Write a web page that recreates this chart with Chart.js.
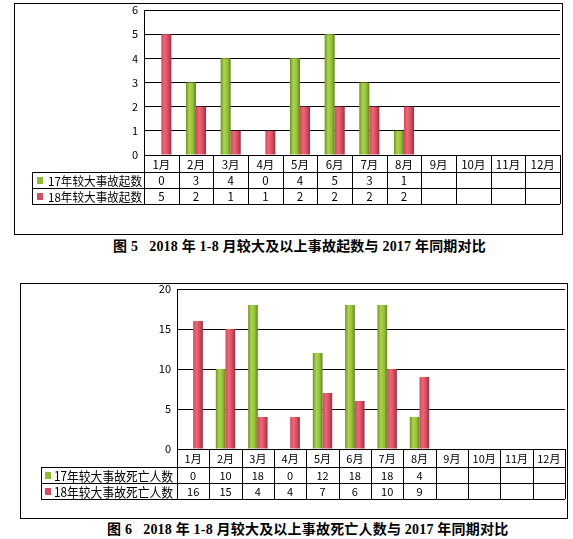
<!DOCTYPE html>
<html>
<head>
<meta charset="utf-8">
<script src="https://cdn.jsdelivr.net/npm/chart.js@4"></script>
<style>
  body { margin: 0; background: #fff; width: 573px; height: 539px; position: relative; overflow: hidden; }
  .box { position: absolute; border: 1px solid #000; box-sizing: border-box; }
  .cap { position: absolute; font: bold 14px "Liberation Serif", "Noto Sans CJK SC", serif; line-height: 16px; letter-spacing: 0.2px; white-space: pre; color: #000; }
</style>
</head>
<body>
<div class="box" id="box1" style="left:14px; top:3px; width:549px; height:232px;"><canvas id="c1"></canvas></div>
<div class="cap" style="left:113px; top:239px;">图 5   2018 年 1-8 月较大及以上事故起数与 2017 年同期对比</div>
<div class="box" id="box2" style="left:20px; top:283px; width:548px; height:236px;"><canvas id="c2"></canvas></div>
<div class="cap" style="left:107px; top:522px;">图 6   2018 年 1-8 月较大及以上事故死亡人数与 2017 年同期对比</div>
<script>
const MONTHS = ['1月','2月','3月','4月','5月','6月','7月','8月','9月','10月','11月','12月'];

const ACCIDENTS_17 = [0, 3, 4, 0, 4, 5, 3, 1];
const ACCIDENTS_18 = [5, 2, 1, 1, 2, 2, 2, 2];
const DEATHS_17 = [0, 10, 18, 0, 12, 18, 18, 4];
const DEATHS_18 = [16, 15, 4, 4, 7, 6, 10, 9];

const LABEL_ACC_17 = '17年较大事故起数';
const LABEL_ACC_18 = '18年较大事故起数';
const LABEL_DEATH_17 = '17年较大事故死亡人数';
const LABEL_DEATH_18 = '18年较大事故死亡人数';

const GREEN = ['#6f9426', '#acd64a', '#92c036', '#5f8420'];
const RED = ['#d8485c', '#ee6677', '#d24a5c', '#983040'];
const FONT = '"Noto Sans CJK SC", "DejaVu Sans", sans-serif';

// shaded "cylinder" look on every bar, worked out from the category scale
function barShade(stops, catPct, idx) {
  return (ctx) => {
    const chart = ctx.chart;
    const x = chart.scales.x;
    if (!chart.chartArea || !x || ctx.dataIndex == null) return stops[1];
    const colW = (chart.chartArea.right - chart.chartArea.left) / MONTHS.length;
    const barW = colW * catPct / 2;
    const left = x.getPixelForValue(ctx.dataIndex) - colW * catPct / 2 + idx * barW;
    const g = chart.ctx.createLinearGradient(left, 0, left + barW, 0);
    g.addColorStop(0, stops[0]);
    g.addColorStop(0.35, stops[1]);
    g.addColorStop(0.7, stops[2]);
    g.addColorStop(1, stops[3]);
    return g;
  };
}

// data table under the plot, aligned with the category columns
const tablePlugin = {
  id: 'dataTable',
  afterDraw(chart, args, opts) {
    const { ctx, chartArea } = chart;
    const x = chart.scales.x;
    const colW = (chartArea.right - chartArea.left) / MONTHS.length;
    const top = chartArea.bottom;
    const r1 = top + opts.headH;
    const r2 = r1 + opts.rowH;
    const r3 = r2 + opts.rowH;
    ctx.save();
    ctx.strokeStyle = '#000';
    ctx.lineWidth = 1;
    ctx.beginPath();
    const hl = (y, x0) => { ctx.moveTo(x0, Math.round(y) + 0.5); ctx.lineTo(chartArea.right, Math.round(y) + 0.5); };
    hl(top, chartArea.left);
    hl(r1, opts.labelLeft);
    hl(r2, opts.labelLeft);
    hl(r3, opts.labelLeft);
    for (let i = 0; i <= MONTHS.length; i++) {
      const px = Math.round(chartArea.left + i * colW) + 0.5;
      ctx.moveTo(px, top);
      ctx.lineTo(px, r3);
    }
    ctx.moveTo(opts.labelLeft + 0.5, r1);
    ctx.lineTo(opts.labelLeft + 0.5, r3);
    ctx.stroke();

    ctx.fillStyle = '#000';
    ctx.font = opts.fontSize + 'px ' + FONT;
    ctx.textAlign = 'center';
    ctx.textBaseline = 'middle';
    MONTHS.forEach((m, i) => ctx.fillText(m, x.getPixelForValue(i), (top + r1) / 2 + 1));
    const rows = [[r1, r2], [r2, r3]];
    chart.data.datasets.forEach((ds, k) => {
      const [y0, y1] = rows[k];
      const ym = (y0 + y1) / 2 + 1;
      ctx.font = opts.fontSize + 'px ' + FONT;
      ds.data.forEach((v, i) => ctx.fillText(String(v), x.getPixelForValue(i), ym));
      ctx.fillStyle = k === 0 ? '#8fbf30' : '#d84a60';
      ctx.fillRect(opts.labelLeft + opts.swatchX, ym - 4, 6, 7);
      ctx.fillStyle = '#000';
      ctx.textAlign = 'left';
      ctx.font = opts.labelSize + 'px ' + FONT;
      ctx.fillText(ds.label, opts.labelLeft + opts.textX, ym, opts.labelW);
      ctx.textAlign = 'center';
    });
    ctx.restore();
  }
};

function buildChart(canvas, cfg) {
  return new Chart(canvas, {
    type: 'bar',
    data: {
      labels: MONTHS,
      datasets: [
        { label: cfg.labels[0], data: cfg.a, backgroundColor: barShade(GREEN, cfg.catPct, 0) },
        { label: cfg.labels[1], data: cfg.b, backgroundColor: barShade(RED, cfg.catPct, 1) }
      ]
    },
    plugins: [tablePlugin],
    options: {
      responsive: true,
      maintainAspectRatio: false,
      animation: false,
      devicePixelRatio: 1,
      categoryPercentage: cfg.catPct,
      barPercentage: 1,
      layout: { padding: { top: cfg.padTop, right: 2, bottom: cfg.padBottom, left: 0 } },
      plugins: {
        legend: { display: false },
        tooltip: { enabled: false },
        dataTable: cfg.table
      },
      scales: {
        x: { display: false, offset: true },
        y: {
          min: 0,
          max: cfg.max,
          afterFit: (s) => { s.width = cfg.axisW; s.paddingTop = 0; s.paddingBottom = 0; },
          ticks: { stepSize: cfg.step, color: '#000', padding: 6, font: { family: FONT, size: 11 } },
          grid: { color: '#000', lineWidth: 1, drawTicks: false },
          border: { display: true, color: '#000', width: 1 }
        }
      }
    }
  });
}

buildChart(document.getElementById('c1'), {
  labels: [LABEL_ACC_17, LABEL_ACC_18],
  a: ACCIDENTS_17, b: ACCIDENTS_18,
  max: 6, step: 1, catPct: 0.58,
  axisW: 129, padTop: 6, padBottom: 79,
  table: { headH: 17, rowH: 16, labelLeft: 17, fontSize: 11.5, labelSize: 12, swatchX: 5, textX: 16, labelW: 94 }
});

buildChart(document.getElementById('c2'), {
  labels: [LABEL_DEATH_17, LABEL_DEATH_18],
  a: DEATHS_17, b: DEATHS_18,
  max: 20, step: 5, catPct: 0.6,
  axisW: 156, padTop: 5, padBottom: 69,
  table: { headH: 18, rowH: 16, labelLeft: 20, fontSize: 11, labelSize: 13, swatchX: 4, textX: 13, labelW: 119 }
});
</script>
</body>
</html>
